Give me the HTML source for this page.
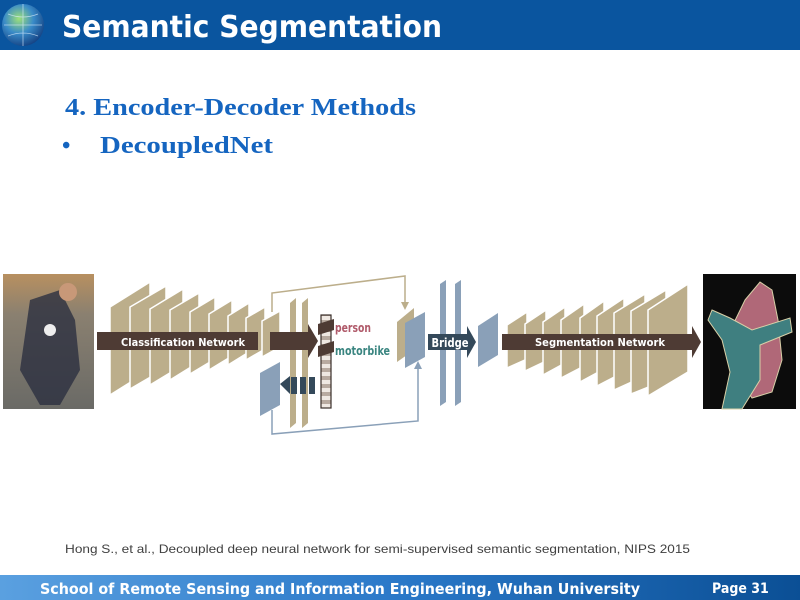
<!DOCTYPE html>
<html><head><meta charset="utf-8"><style>
html,body{margin:0;padding:0;width:800px;height:600px;overflow:hidden;background:#fff;font-family:"Liberation Sans",sans-serif;}
</style></head><body>
<svg width="800" height="600" viewBox="0 0 800 600" xmlns="http://www.w3.org/2000/svg">
<defs>
<linearGradient id="ft" x1="0" x2="1" y1="0" y2="0"><stop offset="0" stop-color="#5aa0e0"/><stop offset="0.5" stop-color="#2a78c8"/><stop offset="1" stop-color="#0b4f95"/></linearGradient>
<radialGradient id="gl" cx="0.4" cy="0.35" r="0.7"><stop offset="0" stop-color="#9ee07a"/><stop offset="0.5" stop-color="#3a8bc8"/><stop offset="1" stop-color="#123e80"/></radialGradient>
<linearGradient id="ph" x1="0" x2="0" y1="0" y2="1"><stop offset="0" stop-color="#b89060"/><stop offset="0.3" stop-color="#8a8070"/><stop offset="1" stop-color="#6a6a66"/></linearGradient>
<pattern id="st" width="10" height="8" patternUnits="userSpaceOnUse"><rect width="10" height="8" fill="#efe8e2"/><rect width="10" height="4" fill="#b8aaa0"/></pattern>
</defs>
<rect x="0" y="0" width="800" height="50" fill="#0a559f"/>
<circle cx="23" cy="25" r="21" fill="url(#gl)"/>
<path d="M4 25 H42 M23 4 V46 M8 14 Q23 20 38 14 M8 36 Q23 30 38 36" stroke="#dfefff" stroke-width="0.8" fill="none" opacity="0.7"/>
<text x="62" y="37" font-family="'DejaVu Sans',sans-serif" font-weight="bold" font-size="30" fill="#fff" textLength="380" lengthAdjust="spacingAndGlyphs">Semantic Segmentation</text>
<text x="65" y="115" font-family="'Liberation Serif',serif" font-weight="bold" font-size="24" fill="#1565c0" textLength="351" lengthAdjust="spacingAndGlyphs">4. Encoder-Decoder Methods</text>
<text x="62" y="153" font-family="'Liberation Serif',serif" font-weight="bold" font-size="24" fill="#1565c0">•</text>
<text x="100" y="153" font-family="'Liberation Serif',serif" font-weight="bold" font-size="24" fill="#1565c0" textLength="173" lengthAdjust="spacingAndGlyphs">DecoupledNet</text>
<rect x="3" y="274" width="91" height="135" fill="url(#ph)"/>
<path d="M30 300 L60 290 L75 320 L80 370 L60 405 L40 405 L20 370 Z" fill="#2c3040" opacity="0.8"/>
<circle cx="50" cy="330" r="6" fill="#eee"/>
<circle cx="68" cy="292" r="9" fill="#c89878"/>
<g fill="#bcae8b" stroke="#fff" stroke-width="1.5">
<polygon points="110,307 150,282 150,370 110,395"/>
<polygon points="130,307 166,286 166,368 130,389"/>
<polygon points="150,309 183,289 183,365 150,385"/>
<polygon points="170,310 199,293 199,362 170,380"/>
<polygon points="190,312 215,297 215,359 190,374"/>
<polygon points="209,314 232,300 232,356 209,370"/>
<polygon points="228,316 249,303 249,352 228,365"/>
<polygon points="246,318 265,307 265,349 246,360"/>
<polygon points="262,321 280,311 280,347 262,357"/>
</g>
<g fill="#bcae8b">
<polygon points="290,303 296,298 296,423 290,428"/>
<polygon points="302,303 308,298 308,423 302,428"/>
<polygon points="397,322 414,308 414,350 397,362"/>
</g>
<polyline points="272,312 272,293 405,276 405,303" fill="none" stroke="#bcae8b" stroke-width="1.5"/>
<polygon points="401,302 409,302 405,310" fill="#bcae8b"/>
<polyline points="272,410 272,434 418,421 418,368" fill="none" stroke="#8aa0b8" stroke-width="1.5"/>
<polygon points="414,369 422,369 418,361" fill="#8aa0b8"/>
<rect x="97" y="332" width="161" height="18" fill="#4e3b34"/>
<text x="183" y="346" text-anchor="middle" font-family="'DejaVu Sans Condensed','DejaVu Sans',sans-serif" font-weight="bold" font-size="11" fill="#fff" textLength="124" lengthAdjust="spacingAndGlyphs">Classification Network</text>
<polygon points="270,332 308,332 308,324 318,341 308,358 308,350 270,350" fill="#4e3b34"/>
<polygon points="260,373 280,362 280,405 260,416" fill="#8aa0b8"/>
<polygon points="280,384 290,376 290,394" fill="#34495a"/>
<rect x="291" y="377" width="6" height="17" fill="#34495a"/>
<rect x="300" y="377" width="6" height="17" fill="#34495a"/>
<rect x="309" y="377" width="6" height="17" fill="#34495a"/>
<rect x="321" y="315" width="10" height="93" fill="url(#st)" stroke="#3a2e2a" stroke-width="1.2"/>
<polygon points="318,324 334,319 334,330 318,335" fill="#4e3b34"/>
<polygon points="318,346 334,341 334,352 318,357" fill="#4e3b34"/>
<text x="335" y="332" font-family="'DejaVu Sans Condensed','DejaVu Sans',sans-serif" font-weight="bold" font-size="12" fill="#b05a6a" textLength="36" lengthAdjust="spacingAndGlyphs">person</text>
<text x="335" y="355" font-family="'DejaVu Sans Condensed','DejaVu Sans',sans-serif" font-weight="bold" font-size="12" fill="#3a8580" textLength="55" lengthAdjust="spacingAndGlyphs">motorbike</text>
<g fill="#8aa0b8">
<polygon points="405,323 425,312 425,357 405,368"/>
<polygon points="440,284 446,280 446,402 440,406"/>
<polygon points="455,284 461,280 461,402 455,406"/>
<polygon points="478,326 498,313 498,355 478,367"/>
</g>
<polygon points="428,334 467,334 467,326 476,342 467,358 467,350 428,350" fill="#34495a"/>
<text x="450" y="347" text-anchor="middle" font-family="'DejaVu Sans Condensed','DejaVu Sans',sans-serif" font-weight="bold" font-size="12" fill="#fff" textLength="37" lengthAdjust="spacingAndGlyphs">Bridge</text>
<g fill="#bcae8b" stroke="#fff" stroke-width="1.5">
<polygon points="507,325 527,312 527,359 507,368"/>
<polygon points="525,324 546,310 546,361 525,371"/>
<polygon points="543,322 565,307 565,363 543,375"/>
<polygon points="561,320 584,304 584,366 561,378"/>
<polygon points="580,318 604,301 604,369 580,382"/>
<polygon points="597,316 624,298 624,372 597,386"/>
<polygon points="614,313 645,294 645,376 614,390"/>
<polygon points="631,311 666,290 666,380 631,394"/>
<polygon points="648,310 688,284 688,372 648,396"/>
</g>
<polygon points="502,334 692,334 692,326 701,342 692,358 692,350 502,350" fill="#4e3b34"/>
<text x="600" y="346" text-anchor="middle" font-family="'DejaVu Sans Condensed','DejaVu Sans',sans-serif" font-weight="bold" font-size="11" fill="#fff" textLength="130" lengthAdjust="spacingAndGlyphs">Segmentation Network</text>
<rect x="703" y="274" width="93" height="135" fill="#0c0c0c"/>
<path d="M745 300 L760 282 L772 290 L778 320 L782 360 L772 392 L752 398 L735 372 L728 335 Z" fill="#b06878" stroke="#d8d0a8" stroke-width="1"/>
<path d="M712 310 L730 318 L752 330 L790 318 L792 332 L760 345 L760 380 L742 409 L722 409 L730 372 L722 340 L708 320 Z" fill="#3f7f80" stroke="#d8d0a8" stroke-width="1"/>
<text x="65" y="553" font-family="'Liberation Sans',sans-serif" font-size="12" fill="#404040" textLength="625" lengthAdjust="spacingAndGlyphs">Hong S., et al., Decoupled deep neural network for semi-supervised semantic segmentation, NIPS 2015</text>
<rect x="0" y="575" width="800" height="25" fill="url(#ft)"/>
<text x="40" y="594" font-family="'DejaVu Sans Condensed','DejaVu Sans',sans-serif" font-weight="bold" font-size="15" fill="#fff" textLength="600" lengthAdjust="spacingAndGlyphs">School of Remote Sensing and Information Engineering, Wuhan University</text>
<text x="712" y="593" font-family="'DejaVu Sans Condensed','DejaVu Sans',sans-serif" font-weight="bold" font-size="14" fill="#fff">Page 31</text>
</svg>
</body></html>
